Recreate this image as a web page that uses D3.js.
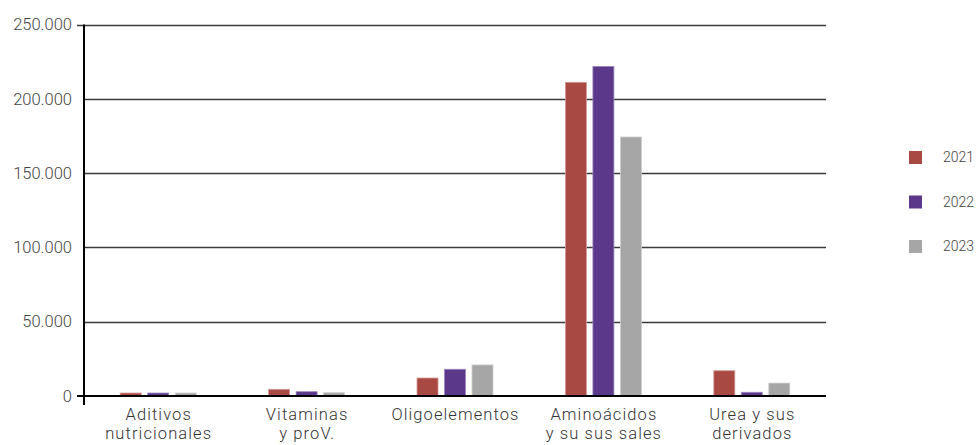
<!DOCTYPE html>
<html><head><meta charset="utf-8">
<script src="https://cdn.jsdelivr.net/npm/d3@7"></script>
<style>body{margin:0;background:#fff;}</style>
</head><body>
<svg id="c" width="976" height="445"></svg>
<script>
const categories = [["Aditivos","nutricionales"],["Vitaminas","y proV."],["Oligoelementos"],["Aminoácidos","y su sus sales"],["Urea y sus","derivados"]];
const series = ["2021","2022","2023"];
const v2021 = [2000, 4500, 12100, 211100, 17000];
const v2022 = [2000, 2900, 18000, 221800, 2500];
const v2023 = [2000, 2200, 20900, 174300, 8700];
const yTicks = [0, 50000, 100000, 150000, 200000, 250000];
const colors = ["#a84944", "#5b3889", "#a6a6a6"];
const strokes = ["#d49a96", "#9a86c0", "#cfcfcf"];

(function () {
const values = [v2021, v2022, v2023];
const svg = d3.select("#c");
const mLeft = 84, mRight = 826, mTop = 24.5, mBottom = 396;
const x0 = d3.scaleBand().domain(d3.range(categories.length)).range([mLeft, mRight]);
const x1 = d3.scaleBand().domain(series).range([x0.bandwidth()/2 - 38, x0.bandwidth()/2 + 38]).paddingInner(0.236);
const y = d3.scaleLinear().domain([0, 250000]).range([mBottom, mTop]);
const fmt = d => d3.format(",")(d).replace(/,/g, ".");

svg.append("g").selectAll("line").data(yTicks.filter(t => t > 0)).join("line")
  .attr("x1", d => d === 250000 ? mLeft - 7 : mLeft).attr("x2", mRight)
  .attr("y1", d => Math.round(y(d)) + 0.5).attr("y2", d => Math.round(y(d)) + 0.5)
  .attr("stroke", "#3a3a3a").attr("stroke-width", 1.3);

svg.append("g").selectAll("text").data(yTicks).join("text")
  .attr("x", 72).attr("y", d => y(d)).attr("dy", "0.35em")
  .attr("text-anchor", "end").attr("font-family", "Roboto, sans-serif").attr("font-weight", 300)
  .attr("font-size", 16.5).attr("fill", "#444").text(fmt);

categories.forEach((c, i) => {
  const g = svg.append("g").attr("transform", `translate(${x0(i)},0)`);
  series.forEach((s, k) => {
    const v = values[k][i];
    g.append("rect").attr("x", x1(s)).attr("width", x1.bandwidth())
      .attr("y", y(v)).attr("height", mBottom - y(v))
      .attr("fill", colors[k]).attr("stroke", strokes[k]).attr("stroke-width", 0.8);
  });
});

svg.append("line").attr("x1", mLeft - 7).attr("x2", mRight).attr("y1", mBottom).attr("y2", mBottom)
  .attr("stroke", "#000").attr("stroke-width", 2);
svg.append("line").attr("x1", mLeft).attr("x2", mLeft).attr("y1", mTop).attr("y2", 405)
  .attr("stroke", "#000").attr("stroke-width", 2);

categories.forEach((c, i) => {
  const t = svg.append("text").attr("text-anchor", "middle")
    .attr("font-family", "Roboto, sans-serif").attr("font-weight", 300).attr("letter-spacing", 1.1)
    .attr("font-size", 16.5).attr("fill", "#333");
  c.forEach((line, j) => {
    t.append("tspan").attr("x", x0(i) + x0.bandwidth()/2 + 0.5).attr("y", 420 + j * 19).text(line);
  });
});

series.forEach((s, k) => {
  const yy = 151 + k * 44.5;
  svg.append("rect").attr("x", 909).attr("y", yy).attr("width", 13).attr("height", 13).attr("fill", colors[k]);
  svg.append("text").attr("x", 943).attr("y", yy + 6.5).attr("dy", "0.35em")
    .attr("font-family", "Roboto, sans-serif").attr("font-weight", 300)
    .attr("font-size", 14).attr("fill", "#444").text(s);
});
})();
</script>
</body></html>
